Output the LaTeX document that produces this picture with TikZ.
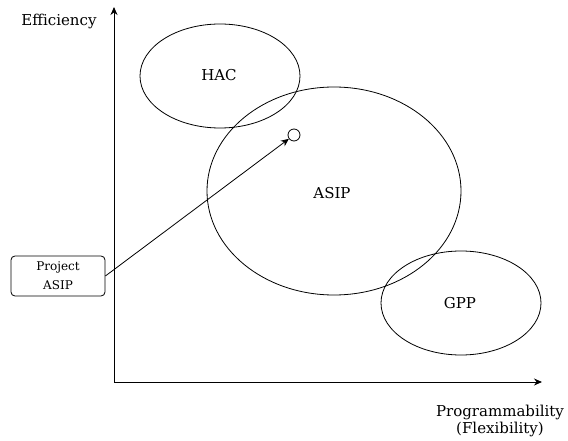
\documentclass[tikz,border=0pt]{standalone}
\usepackage{fontspec}
\setmainfont{DejaVu Serif}
\usetikzlibrary{arrows.meta}
\begin{document}
\begin{tikzpicture}[x=1pt,y=-1pt,
  axis/.style={draw=black, line width=1pt, -{Stealth[length=8pt,width=7pt]}},
  region/.style={draw=black, line width=0.8pt},
  lbl/.style={font=\fontsize{15}{17}\selectfont, inner sep=0pt},
  projbox/.style={draw=black, line width=0.8pt, rounded corners=4pt, minimum width=94pt, minimum height=40pt, align=center, font=\fontsize{12}{19}\selectfont}]
  \useasboundingbox (0,0) rectangle (568,441);
  % axes
  \coordinate (origin) at (114,382);
  \coordinate (ytip) at (114,7);
  \coordinate (xtip) at (542,382);
  \draw[axis] (origin) -- (ytip);
  \draw[axis] (origin) -- (xtip);
  % design regions
  \draw[region] (220,76) ellipse [x radius=80, y radius=52];
  \draw[region] (334,191) ellipse [x radius=127, y radius=104];
  \draw[region] (461,303) ellipse [x radius=80, y radius=52];
  \node[lbl] (hac) at (219,75) {HAC};
  \node[lbl] (asip) at (332,193) {ASIP};
  \node[lbl] (gpp) at (460,303) {GPP};
  % target point and project
  \node[draw=black, line width=0.8pt, circle, minimum size=12pt, inner sep=0pt, fill=white] (target) at (294,135) {};
  \node[projbox] (proj) at (58,276) {Project\\ASIP};
  \draw[line width=0.8pt, -{Stealth[length=8pt,width=7pt]}] (proj.east) -- (target);
  % axis labels
  \node[lbl] (eff) at (59,21) {Efficiency};
  \node[lbl, align=center] (prog) at (500,421) {Programmability\\(Flexibility)};
\end{tikzpicture}
\end{document}
